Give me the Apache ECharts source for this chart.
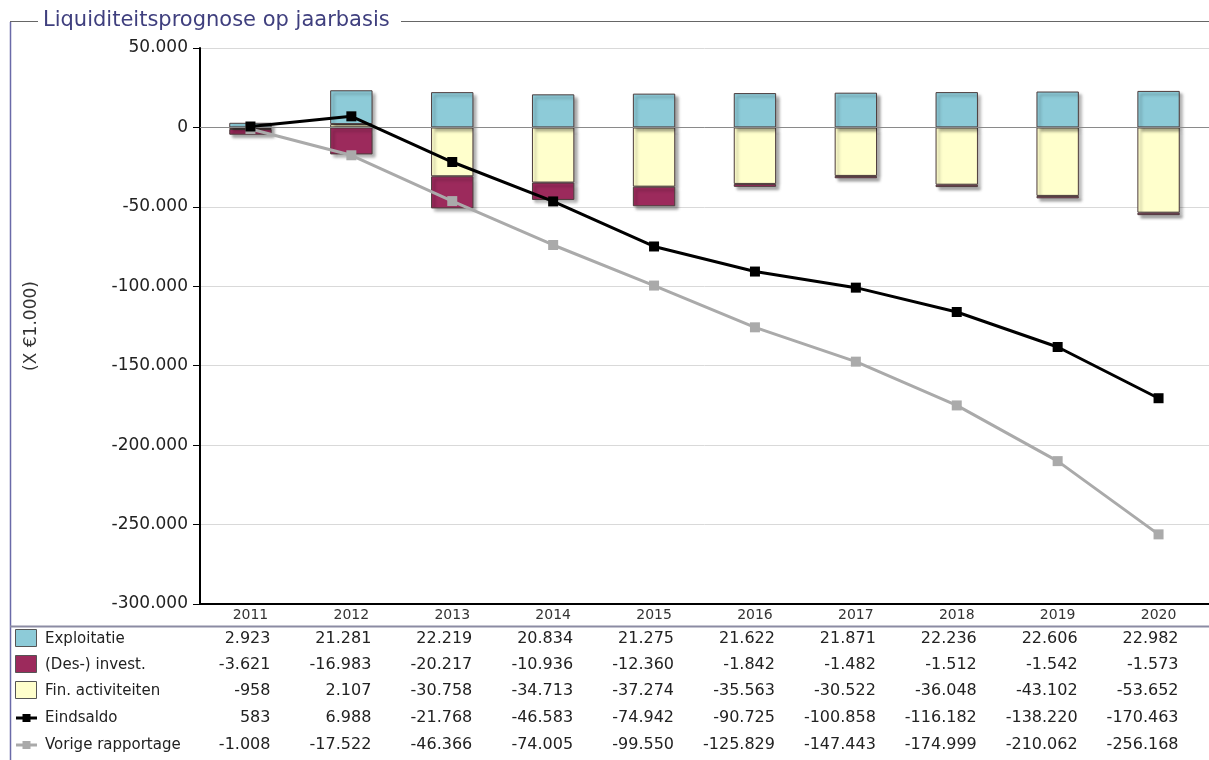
<!DOCTYPE html>
<html>
<head>
<meta charset="utf-8">
<script src="https://cdn.jsdelivr.net/npm/echarts@6/dist/echarts.min.js"></script>
<style>
  html, body { margin: 0; padding: 0; background: #fff; }
  #chart { width: 1209px; height: 760px; }
</style>
</head>
<body>
<div id="chart"></div>
<script>
// Liquiditeitsprognose op jaarbasis (bedragen x €1.000)
const years = ['2011', '2012', '2013', '2014', '2015', '2016', '2017', '2018', '2019', '2020'];
const exploitatie = [2923, 21281, 22219, 20834, 21275, 21622, 21871, 22236, 22606, 22982];
const desInvest = [-3621, -16983, -20217, -10936, -12360, -1842, -1482, -1512, -1542, -1573];
const finActiviteiten = [-958, 2107, -30758, -34713, -37274, -35563, -30522, -36048, -43102, -53652];
const eindsaldo = [583, 6988, -21768, -46583, -74942, -90725, -100858, -116182, -138220, -170463];
const vorigeRapportage = [-1008, -17522, -46366, -74005, -99550, -125829, -147443, -174999, -210062, -256168];
const yTicks = { min: -300000, max: 50000, step: 50000 };

const COLORS = {
  expl: '#8dcbd8',
  invest: '#9c2a5c',
  fin: '#ffffcc',
  eind: '#000000',
  vorig: '#aaaaaa',
  border: '#4d3c3c',
  frame: '#6a6aa8',
  title: '#3f3f7e'
};
const FONT = '"DejaVu Sans", Verdana, sans-serif';

function nl(v) {
  const s = Math.abs(v).toString().replace(/\B(?=(\d{3})+(?!\d))/g, '.');
  return (v < 0 ? '-' : '') + s;
}

const barStyle = (color) => ({
  color: color,
  borderColor: COLORS.border,
  borderWidth: 1,
  shadowColor: 'rgba(0,0,0,0.35)',
  shadowBlur: 3,
  shadowOffsetX: 3,
  shadowOffsetY: 3
});

const chart = echarts.init(document.getElementById('chart'), null, { renderer: 'canvas' });

const option = {
  animation: false,
  backgroundColor: '#ffffff',
  textStyle: { fontFamily: FONT },
  grid: { left: 200, top: 48, width: 1011, height: 556, containLabel: false },
  xAxis: {
    type: 'category',
    data: years,
    axisLine: { onZero: false, lineStyle: { color: '#000', width: 2 } },
    axisTick: { alignWithLabel: true, length: 4, lineStyle: { color: '#999' } },
    axisLabel: { color: '#333', fontSize: 14, margin: 4, fontFamily: FONT },
    splitLine: { show: false }
  },
  yAxis: {
    type: 'value',
    min: yTicks.min,
    max: yTicks.max,
    interval: yTicks.step,
    name: '(X €1.000)',
    nameLocation: 'middle',
    nameRotate: 90,
    nameGap: 160,
    nameTextStyle: { color: '#333', fontSize: 17, fontFamily: FONT },
    axisLine: { show: true, lineStyle: { color: '#000', width: 2 } },
    axisTick: { show: true, length: 7, lineStyle: { color: '#000' } },
    axisLabel: { color: '#222', fontSize: 17, margin: 12, formatter: nl, fontFamily: FONT },
    splitLine: { show: true, lineStyle: { color: '#d9d9d9', width: 1 } }
  },
  series: [
    {
      name: 'Fin. activiteiten', type: 'bar', stack: 'liq', data: finActiviteiten,
      barWidth: '42%', itemStyle: barStyle(COLORS.fin),
      markLine: {
        silent: true, symbol: 'none', label: { show: false },
        lineStyle: { color: '#8a8a8a', width: 1, type: 'solid' },
        data: [{ yAxis: 0 }]
      }
    },
    {
      name: '(Des-) invest.', type: 'bar', stack: 'liq', data: desInvest,
      barWidth: '42%', itemStyle: barStyle(COLORS.invest)
    },
    {
      name: 'Exploitatie', type: 'bar', stack: 'liq', data: exploitatie,
      barWidth: '42%', itemStyle: barStyle(COLORS.expl)
    },
    {
      name: 'Vorige rapportage', type: 'line', data: vorigeRapportage, z: 5,
      symbol: 'rect', symbolSize: 10, showAllSymbol: true,
      lineStyle: { color: COLORS.vorig, width: 3 },
      itemStyle: { color: COLORS.vorig }
    },
    {
      name: 'Eindsaldo', type: 'line', data: eindsaldo, z: 6,
      symbol: 'rect', symbolSize: 10, showAllSymbol: true,
      lineStyle: { color: COLORS.eind, width: 3 },
      itemStyle: { color: COLORS.eind }
    }
  ]
};

chart.setOption(option);

// Fieldset frame with title, and data table beneath the x-axis
const rows = [
  { label: 'Exploitatie', values: exploitatie, kind: 'box', color: COLORS.expl },
  { label: '(Des-) invest.', values: desInvest, kind: 'box', color: COLORS.invest },
  { label: 'Fin. activiteiten', values: finActiviteiten, kind: 'box', color: COLORS.fin },
  { label: 'Eindsaldo', values: eindsaldo, kind: 'line', color: COLORS.eind },
  { label: 'Vorige rapportage', values: vorigeRapportage, kind: 'line', color: COLORS.vorig }
];
const rowY = [639, 665, 691, 718, 745];

const graphics = [];
// frame lines
graphics.push({ type: 'line', shape: { x1: 10.5, y1: 22, x2: 10.5, y2: 760 }, style: { stroke: COLORS.frame, lineWidth: 1.5 }, silent: true });
graphics.push({ type: 'line', shape: { x1: 10, y1: 21.5, x2: 38, y2: 21.5 }, style: { stroke: '#666', lineWidth: 1 }, silent: true });
graphics.push({ type: 'line', shape: { x1: 401, y1: 21.5, x2: 1209, y2: 21.5 }, style: { stroke: '#666', lineWidth: 1 }, silent: true });
graphics.push({
  type: 'text', x: 43, y: 21,
  style: { text: 'Liquiditeitsprognose op jaarbasis', fill: COLORS.title, font: '21px ' + FONT, verticalAlign: 'middle', textVerticalAlign: 'middle' }, silent: true
});
// separator between axis and table
graphics.push({ type: 'line', shape: { x1: 10, y1: 626.5, x2: 1209, y2: 626.5 }, style: { stroke: '#8b8ba3', lineWidth: 2 }, silent: true });

rows.forEach((r, i) => {
  const cy = rowY[i];
  if (r.kind === 'box') {
    graphics.push({ type: 'rect', shape: { x: 15.5, y: cy - 9.5, width: 21, height: 17 },
      style: { fill: r.color, stroke: '#555', lineWidth: 1 }, silent: true });
  } else {
    graphics.push({ type: 'line', shape: { x1: 16, y1: cy, x2: 37, y2: cy },
      style: { stroke: r.color, lineWidth: 3 }, silent: true });
    graphics.push({ type: 'rect', shape: { x: 22.5, y: cy - 4, width: 8, height: 8 },
      style: { fill: r.color }, silent: true });
  }
  graphics.push({ type: 'text', x: 45, y: cy,
    style: { text: r.label, fill: '#222', font: '15px ' + FONT, textVerticalAlign: 'middle', verticalAlign: 'middle' }, silent: true });
  r.values.forEach((v, j) => {
    const px = chart.convertToPixel({ xAxisIndex: 0 }, years[j]);
    graphics.push({ type: 'text', x: px + 20, y: cy,
      style: { text: nl(v), fill: '#222', font: '16px ' + FONT, align: 'right', textAlign: 'right', verticalAlign: 'middle', textVerticalAlign: 'middle' }, silent: true });
  });
});

chart.setOption({ graphic: graphics });
</script>
</body>
</html>
